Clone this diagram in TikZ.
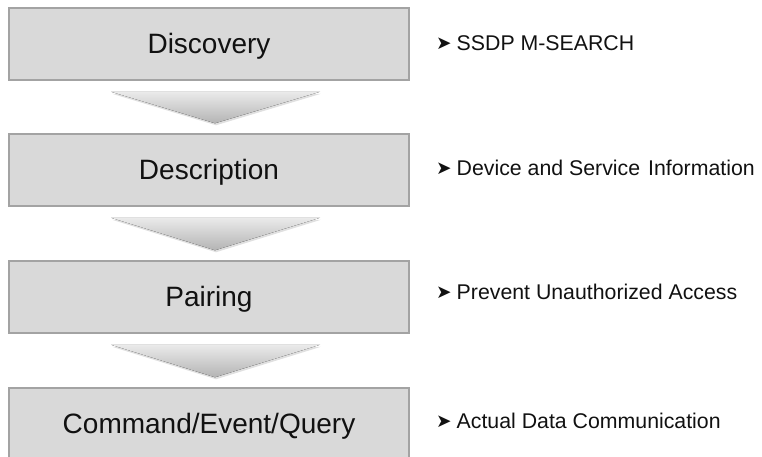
\documentclass[tikz,border=0pt]{standalone}
\usepackage{fontspec}
\setmainfont{Liberation Sans}
\newfontfamily\symfont{DejaVu Sans}
\usetikzlibrary{calc}
\definecolor{boxfill}{HTML}{D9D9D9}
\definecolor{boxline}{HTML}{A3A3A3}
\definecolor{chevtop}{HTML}{EAEAEA}
\definecolor{chevbot}{HTML}{B4B4B4}
\definecolor{ink}{HTML}{111111}
\begin{document}
\begin{tikzpicture}[x=1pt,y=-1pt,
  stage/.style={draw=boxline, fill=boxfill, line width=1.5pt,
    minimum width=400pt, minimum height=72pt, inner sep=0pt,
    text height=20pt, text depth=2pt,
    text=ink, font=\fontsize{28}{32}\selectfont},
  note/.style={anchor=west, inner sep=0pt, text=ink,
    font=\fontsize{21.3}{24}\selectfont},
  chev/.style={top color=chevtop, bottom color=chevbot, draw=none},
  chevshade/.style={fill=black, opacity=0.12, draw=none}]
\useasboundingbox (0,0) rectangle (762,456);
\clip (0,0) rectangle (762,456);

% process stages
\node[stage] (disc) at (209,44)  {Discovery};
\node[stage] (desc) at (209,170) {Description};
\node[stage] (pair) at (209,297) {Pairing};
\node[stage] (cmd)  at (209,424) {Command/Event/Query};

% downward chevrons between consecutive stages
\foreach \a/\b in {disc/desc,desc/pair,pair/cmd}{
  \fill[chevshade] ($(\a.south)+(-97,13)$) -- ($(\a.south)+(112,13)$)
        -- ($(\b.north)+(7,-8)$) -- cycle;
  \fill[chev] ($(\a.south)+(-98,11)$) -- ($(\a.south)+(111,11)$)
        -- ($(\b.north)+(6,-10)$) -- cycle;
}

% side notes
\newcommand\bul{\raisebox{0.8pt}{\symfont\fontsize{18.5}{20}\selectfont ➤}\hspace{5pt}}
\node[note] (n1) at (436,43)  {\bul SSDP M-SEARCH};
\node[note] (n2) at (436,168) {\bul Device and Service\hspace{8pt}Information};
\node[note] (n3) at (436,292) {\bul Prevent Unauthorized Access};
\node[note] (n4) at (436,421) {\bul Actual Data Communication};
\end{tikzpicture}
\end{document}
